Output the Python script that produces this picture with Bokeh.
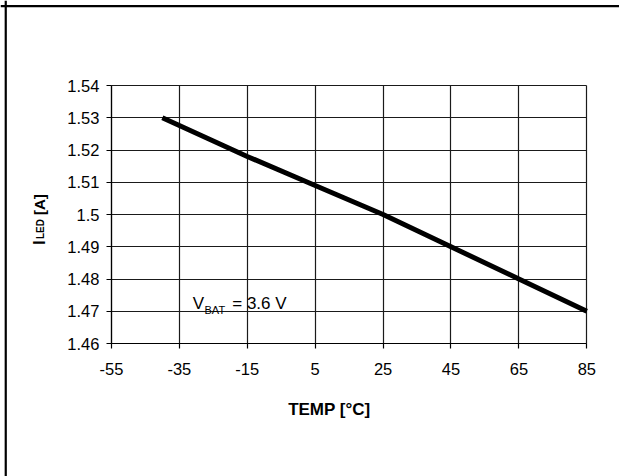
import math
from bokeh.plotting import figure
from bokeh.models import Label, FixedTicker, Range1d, LinearAxis, Grid, Span
from bokeh.embed import file_html
from bokeh.resources import INLINE

# Data
temps = [-40, -15, 5, 25, 45, 65, 85]
i_led = [1.530, 1.518, 1.509, 1.500, 1.490, 1.480, 1.470]

x_ticks = [-55, -35, -15, 5, 25, 45, 65, 85]
x_tick_labels = ["-55", "-35", "-15", "5", "25", "45", "65", "85"]
y_ticks = [1.46, 1.47, 1.48, 1.49, 1.50, 1.51, 1.52, 1.53, 1.54]
y_tick_labels = ["1.46", "1.47", "1.48", "1.49", "1.5", "1.51", "1.52", "1.53", "1.54"]
x_label = "TEMP [°C]"
y_label_main = "I"
y_label_sub = "LED"
y_label_rest = "[A]"
note_main = "V"
note_sub = "BAT"
note_rest = "= 3.6 V"

FONT = "Liberation Sans"
W, H = 625, 476
# plot area in canvas pixels
PL, PR, PT, PB = 112, 592, 85, 343
XMIN, XMAX = x_ticks[0], x_ticks[-1]
YMIN, YMAX = y_ticks[0], y_ticks[-1]
sx = (PR - PL) / (XMAX - XMIN)
sy = (PB - PT) / (YMAX - YMIN)

def dx(px):
    return XMIN + (px - PL) / sx

def dy(py):
    return YMAX - (py - PT) / sy

p = figure(width=W, height=H, output_backend="svg", toolbar_location=None,
           x_range=Range1d(dx(0), dx(W)), y_range=Range1d(dy(H), dy(0)),
           x_axis_type=None, y_axis_type=None, min_border=0)
p.outline_line_color = None
p.background_fill_color = "white"
p.border_fill_color = "white"
p.stylesheets = [
    ":host { max-width: 619px !important; overflow: hidden !important; }",
]

# grid
xg = Grid(dimension=0, ticker=FixedTicker(ticks=x_ticks), cross_bounds=(YMIN, YMAX),
          grid_line_color="#1a1a1a", grid_line_width=1.2)
yg = Grid(dimension=1, ticker=FixedTicker(ticks=y_ticks), cross_bounds=(XMIN, XMAX),
          grid_line_color="#1a1a1a", grid_line_width=1.2)
p.add_layout(xg)
p.add_layout(yg)

p.line(temps, i_led, line_color="black", line_width=5)

xaxis = LinearAxis(fixed_location=YMIN, bounds=(XMIN, XMAX),
                   ticker=FixedTicker(ticks=x_ticks),
                   major_label_overrides={t: l for t, l in zip(x_ticks, x_tick_labels)})
yaxis = LinearAxis(fixed_location=XMIN, bounds=(YMIN, YMAX),
                   ticker=FixedTicker(ticks=y_ticks),
                   major_label_overrides={t: l for t, l in zip(y_ticks, y_tick_labels)})
for ax in (xaxis, yaxis):
    ax.axis_line_color = "black"
    ax.axis_line_width = 1.2
    ax.major_tick_line_color = "black"
    ax.major_tick_line_width = 1.2
    ax.major_tick_in = 0
    ax.major_tick_out = 5
    ax.minor_tick_line_color = None
    ax.major_label_text_font = FONT
    ax.major_label_text_font_size = "16.5px"
    ax.major_label_text_color = "black"
xaxis.major_label_standoff = 14
yaxis.major_label_standoff = 7
p.add_layout(xaxis, "below")
p.add_layout(yaxis, "left")

# outer border (top and left)
p.add_layout(Span(location=dy(5.7), dimension="width", line_color="black", line_width=2.2))
p.add_layout(Span(location=dx(5.3), dimension="height", line_color="black", line_width=2.2))

# annotation inside plot
p.add_layout(Label(x=dx(194), y=dy(303), text=note_main, text_font=FONT, text_color="black",
                   text_font_size="17px", text_baseline="alphabetic"))
p.add_layout(Label(x=dx(206), y=dy(309), text=note_sub, text_font=FONT, text_color="black",
                   text_font_size="11px", text_baseline="alphabetic"))
p.add_layout(Label(x=dx(234), y=dy(303), text=note_rest, text_font=FONT, text_color="black",
                   text_font_size="17px", text_baseline="alphabetic"))

# x axis label
p.add_layout(Label(x=dx(332), y=dy(409), text=x_label, text_font=FONT, text_color="black",
                   text_font_size="17px", text_font_style="bold",
                   text_align="center", text_baseline="alphabetic"))

# y axis label (rotated)
p.add_layout(Label(x=dx(39.5), y=dy(244.5), text=y_label_main, text_font=FONT, text_color="black",
                   text_font_size="17px", text_font_style="bold", angle=math.pi / 2,
                   text_align="left", text_baseline="alphabetic"))
p.add_layout(Label(x=dx(40.5), y=dy(238.5), text=y_label_sub, text_font=FONT, text_color="black",
                   text_font_size="10px", text_font_style="bold", angle=math.pi / 2,
                   text_align="left", text_baseline="alphabetic"))
p.add_layout(Label(x=dx(39.5), y=dy(214.5), text=y_label_rest, text_font=FONT, text_color="black",
                   text_font_size="15px", text_font_style="bold", angle=math.pi / 2,
                   text_align="left", text_baseline="alphabetic"))

open("out.html", "w").write(file_html(p, INLINE))
